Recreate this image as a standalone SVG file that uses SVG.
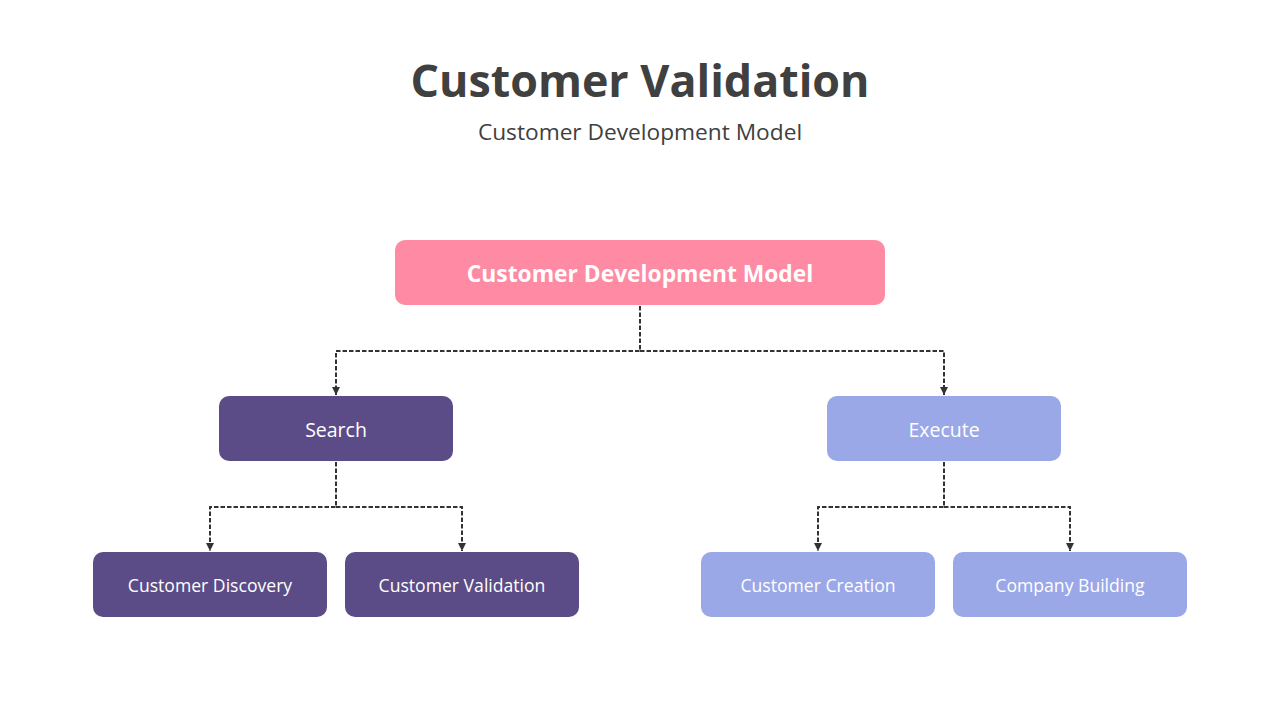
<svg xmlns="http://www.w3.org/2000/svg" width="1280" height="720" viewBox="0 0 1280 720">
<defs>
<marker id="arr" viewBox="0 0 10 10" refX="10" refY="5" markerWidth="4" markerHeight="4" orient="auto" markerUnits="strokeWidth">
<path d="M0,0 L10,5 L0,10 z" fill="#333333"/>
</marker>
<style>
.t{font-family:"Open Sans","Noto Sans",sans-serif;text-anchor:middle;}
.title{font-size:44.8px;font-weight:700;fill:#404040;}
.sub{font-size:22.7px;fill:#404040;}
.root{fill:#FF8AA3;}
.dark{fill:#5B4C87;}
.light{fill:#9BA8E8;}
.lbl{fill:#ffffff;}
.conn{fill:none;stroke:#333333;stroke-width:2;stroke-dasharray:4.5 2;}
</style>
</defs>
<rect width="1280" height="720" fill="#ffffff"/>
<text class="t title" x="640" y="97">Customer Validation</text>
<text class="t sub" x="640" y="140">Customer Development Model</text>
<g id="connectors">
<path class="conn" d="M640,306 V351 H336 V395" marker-end="url(#arr)"/>
<path class="conn" d="M640,351 H944 V395" marker-end="url(#arr)"/>
<path class="conn" d="M336,462 V507 H210 V551" marker-end="url(#arr)"/>
<path class="conn" d="M336,507 H462 V551" marker-end="url(#arr)"/>
<path class="conn" d="M944,462 V507 H818 V551" marker-end="url(#arr)"/>
<path class="conn" d="M944,507 H1070 V551" marker-end="url(#arr)"/>
</g>
<g id="root">
<rect class="root" x="395" y="240" width="490" height="65" rx="10"/>
<text class="t lbl" x="640" y="282" font-size="22.8" font-weight="700">Customer Development Model</text>
</g>
<g id="search">
<rect class="dark" x="219" y="396" width="234" height="65" rx="10"/>
<text class="t lbl" x="336" y="437" font-size="19.5">Search</text>
</g>
<g id="execute">
<rect class="light" x="827" y="396" width="234" height="65" rx="10"/>
<text class="t lbl" x="944" y="437" font-size="19.5">Execute</text>
</g>
<g id="discovery">
<rect class="dark" x="93" y="552" width="234" height="65" rx="10"/>
<text class="t lbl" x="210" y="592" font-size="17.6">Customer Discovery</text>
</g>
<g id="validation">
<rect class="dark" x="345" y="552" width="234" height="65" rx="10"/>
<text class="t lbl" x="462" y="592" font-size="17.6">Customer Validation</text>
</g>
<g id="creation">
<rect class="light" x="701" y="552" width="234" height="65" rx="10"/>
<text class="t lbl" x="818" y="592" font-size="17.6">Customer Creation</text>
</g>
<g id="building">
<rect class="light" x="953" y="552" width="234" height="65" rx="10"/>
<text class="t lbl" x="1070" y="592" font-size="17.6">Company Building</text>
</g>
</svg>
